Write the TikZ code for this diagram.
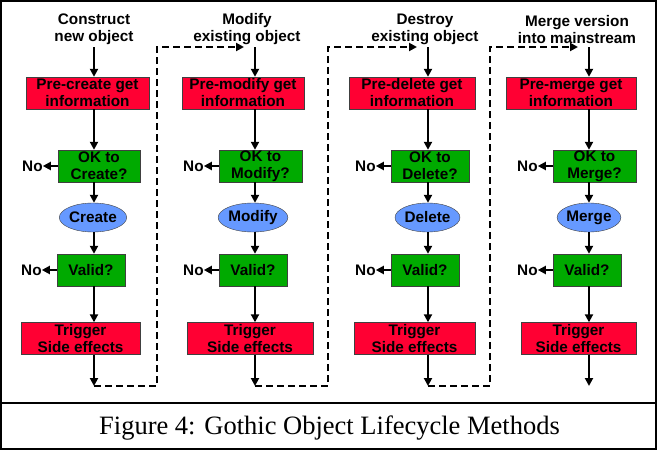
\documentclass[tikz,border=0pt]{standalone}
\usepackage{fontspec}
\setmainfont{Liberation Serif}
\setsansfont{Liberation Sans}
\usetikzlibrary{arrows.meta,positioning,shapes.geometric}
\definecolor{prered}{RGB}{255,0,51}
\definecolor{checkgreen}{RGB}{0,170,0}
\definecolor{opblue}{RGB}{102,153,255}

\begin{document}
\begin{tikzpicture}[x=1pt, y=-1pt,
    every node/.style={font=\sffamily\bfseries\fontsize{15.3}{17}\selectfont, align=center, inner sep=0pt},
    redbox/.style={draw=black!75, fill=prered, minimum height=32pt},
    greenbox/.style={draw=black!75, fill=checkgreen, minimum height=32pt},
    opnode/.style={ellipse, draw=black!75, fill=opblue, minimum height=29pt},
    flow/.style={line width=2pt, -{Triangle[length=8pt,width=8pt]}},
    handover/.style={flow, dash pattern=on 7pt off 4pt}]
    \useasboundingbox (0,0) rectangle (657,450);
    \draw[line width=2pt] (1,1) rectangle (656,449);
    \draw[line width=2pt] (1,403) -- (656,403);

    % construct
    \node (title1) at (94,29.5) {Construct\\new object};
    \node[redbox, minimum width=123pt] (pre1) at (87.5,93) {Pre-create get\\information};
    \node[greenbox, minimum width=82pt] (ok1) at (99,166) {OK to\\Create?};
    \node[opnode, minimum width=62pt] (op1) at (93,217.5) {Create};
    \node[greenbox, minimum width=68pt] (valid1) at (91,270) {Valid?};
    \node[redbox, minimum width=119pt] (trig1) at (80.5,338.5) {Trigger\\Side effects};
    \node[left=15pt of ok1] (no1) {No};
    \node[left=15pt of valid1] (nov1) {No};

    % modify
    \node (title2) at (247,29.5) {Modify\\existing object};
    \node[redbox, minimum width=122pt] (pre2) at (243,93) {Pre-modify get\\information};
    \node[greenbox, minimum width=83pt] (ok2) at (260.5,166) {OK to\\Modify?};
    \node[opnode, minimum width=58pt] (op2) at (253,217.5) {Modify};
    \node[greenbox, minimum width=68pt] (valid2) at (253,270) {Valid?};
    \node[redbox, minimum width=126pt] (trig2) at (250,338.5) {Trigger\\Side effects};
    \node[left=15pt of ok2] (no2) {No};
    \node[left=15pt of valid2] (nov2) {No};

    % destroy
    \node (title3) at (425,29.5) {Destroy\\existing object};
    \node[redbox, minimum width=126pt] (pre3) at (412,93) {Pre-delete get\\information};
    \node[greenbox, minimum width=78pt] (ok3) at (430,166) {OK to\\Delete?};
    \node[opnode, minimum width=61pt] (op3) at (427.5,217.5) {Delete};
    \node[greenbox, minimum width=68pt] (valid3) at (425,270) {Valid?};
    \node[redbox, minimum width=121pt] (trig3) at (414.5,338.5) {Trigger\\Side effects};
    \node[left=15pt of ok3] (no3) {No};
    \node[left=15pt of valid3] (nov3) {No};

    % merge
    \node (title4) at (577,29.5) {Merge version\\into mainstream};
    \node[redbox, minimum width=130pt] (pre4) at (571,93) {Pre-merge get\\information};
    \node[greenbox, minimum width=83pt] (ok4) at (594.5,166) {OK to\\Merge?};
    \node[opnode, minimum width=62pt] (op4) at (589,217.5) {Merge};
    \node[greenbox, minimum width=68pt] (valid4) at (587,270) {Valid?};
    \node[redbox, minimum width=115pt] (trig4) at (578.5,338.5) {Trigger\\Side effects};
    \node[left=15pt of ok4] (no4) {No};
    \node[left=15pt of valid4] (nov4) {No};

    \coordinate (top1) at (94,47);  \coordinate (end1) at (94,386);
    \coordinate (top2) at (255,47); \coordinate (end2) at (255,386);
    \coordinate (top3) at (428,47); \coordinate (end3) at (428,386);
    \coordinate (top4) at (589,47); \coordinate (end4) at (589,386);

    \foreach \i in {1,2,3,4} {
      \draw[flow] (top\i) -- (top\i |- pre\i.north);
      \draw[flow] (top\i |- pre\i.south) -- (top\i |- ok\i.north);
      \draw[flow] (top\i |- ok\i.south) -- (top\i |- op\i.north);
      \draw[flow] (top\i |- op\i.south) -- (top\i |- valid\i.north);
      \draw[flow] (top\i |- valid\i.south) -- (top\i |- trig\i.north);
      \draw[flow] (top\i |- trig\i.south) -- (end\i);
      \draw[flow] (ok\i.west) -- (no\i.east);
      \draw[flow] (valid\i.west) -- (nov\i.east);
    }

    \draw[handover] (end1) -| (157,47) -- ([xshift=-11pt]top2);
    \draw[handover] (end2) -| (328,47) -- ([xshift=-11pt]top3);
    \draw[handover] (end3) -| (490,47) -- ([xshift=-11pt]top4);

    \node[font=\rmfamily\mdseries\fontsize{26.5}{30}\selectfont] (caption) at (329.5,428) {Figure 4: Gothic Object Lifecycle Methods};
\end{tikzpicture}
\end{document}
